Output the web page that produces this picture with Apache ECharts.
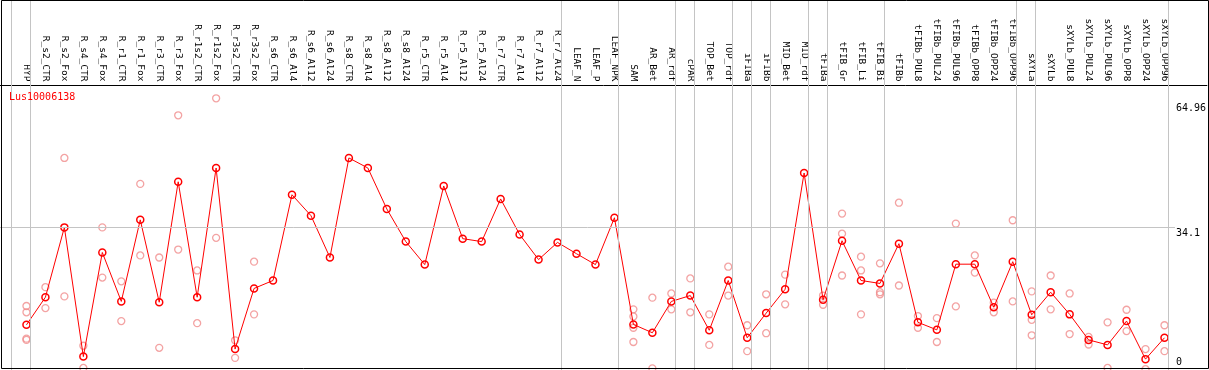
<!DOCTYPE html>
<html><head><meta charset="utf-8">
<script src="https://cdn.jsdelivr.net/npm/echarts@6/dist/echarts.min.js"></script>
<style>html,body{margin:0;padding:0;background:#fff}#c{width:1209px;height:370px}</style>
</head><body><div id="c"></div>
<script>
const geneId = 'Lus10006138';
const categories = ['HYP','R_s2_CTR','R_s2_Fox','R_s4_CTR','R_s4_Fox','R_r1_CTR','R_r1_Fox','R_r3_CTR','R_r3_Fox','R_r1s2_CTR','R_r1s2_Fox','R_r3s2_CTR','R_r3s2_Fox','R_s6_CTR','R_s6_Al4','R_s6_Al12','R_s6_Al24','R_s8_CTR','R_s8_Al4','R_s8_Al12','R_s8_Al24','R_r5_CTR','R_r5_Al4','R_r5_Al12','R_r5_Al24','R_r7_CTR','R_r7_Al4','R_r7_Al12','R_r7_Al24','LEAF_N','LEAF_P','LEAF_NPK','SAM','AR_Bet','AR_rdf','cPAR','TOP_Bet','TOP_rdf','iFIBa','iFIBb','MID_Bet','MID_rdf','tFIBa','tFIB_Gr','tFIB_Li','tFIB_Bi','tFIBb','tFIBb_PUL8','tFIBb_PUL24','tFIBb_PUL96','tFIBb_OPP8','tFIBb_OPP24','tFIBb_OPP96','sXYLa','sXYLb','sXYLb_PUL8','sXYLb_PUL24','sXYLb_PUL96','sXYLb_OPP8','sXYLb_OPP24','sXYLb_OPP96'];
const meanValues = [10.8,17.4,34.1,3.2,28.1,16.4,35.9,16.2,45.0,17.4,48.3,5.0,19.5,21.4,41.9,36.9,26.9,50.7,48.3,38.5,30.7,25.2,44.0,31.4,30.7,40.9,32.4,26.4,30.5,27.8,25.2,36.4,10.9,8.9,16.4,17.8,9.5,21.4,7.7,13.6,19.3,47.1,16.8,30.9,21.4,20.7,30.2,11.4,9.6,25.3,25.3,15.0,25.9,13.2,18.6,13.3,7.2,6.0,11.7,2.6,7.7];
const replicateValues = [
  [15.3,13.8,7.5,7.2],[19.8,14.8],[50.7,17.6],[5.8,0.5],[34.1,22.1],[21.2,11.7],[44.5,27.4],[26.9,5.3],[60.9,28.8],[23.8,11.2],[64.96,31.6],[7.1,2.9],[25.9,13.3],
  [],[],[],[],[],[],[],[],[],[],[],[],[],[],[],[],[],[],[],
  [14.5,12.8,10.1,6.7],[17.3,0.4],[18.3,14.5],[21.9,13.8],[13.3,6.0],[24.7,17.8],[10.7,4.5],[18.1,8.8],[22.8,15.7],[],
  [17.8,15.6],[37.4,32.6,22.6],[27.1,23.8,13.3],[25.5,18.6,18.1],[40.0,20.2],[12.9,10.1],[12.4,6.7],[35.0,15.2],[27.4,23.3],[16.1,13.8],[35.8,16.4],
  [18.8,12.0,8.3],[22.6,14.5],[18.3,8.6],[7.9,6.1],[11.4,0.5],[14.4,9.3],[5.0,0.2],[10.7,4.5]
];
const yTickValues = [0, 34.1, 64.96];
const referenceValue = 34.1;
const groupLastIndex = [-1, 0, 28, 31, 34, 35, 37, 38, 39, 41, 42, 45, 52, 53, 60];

// layout (pixels)
const W = 1209;
const firstX = 26.5, step = 19;
const zeroY = 371.8, pxPerUnit = 4.2028;
const xMin = (0 - firstX) / step, xMax = (W - firstX) / step;
const yMax = zeroY / pxPerUnit;
const sepOffset = 4 / step;
const refLineEnd = (1177 - firstX) / step;

const replicatePoints = [];
replicateValues.forEach((arr, i) => arr.forEach(v => replicatePoints.push([i, v])));

const mono = 'DejaVu Sans Mono';
const chart = echarts.init(document.getElementById('c'), null, {renderer: 'canvas'});
chart.setOption({
  animation: false,
  backgroundColor: '#fff',
  title: {text: geneId, left: 9, top: 92, padding: 0,
    textStyle: {color: '#ff0000', fontFamily: mono, fontSize: 10, fontWeight: 'normal'}},
  grid: {left: 0, right: 0, top: 0, height: zeroY, containLabel: false},
  xAxis: {
    type: 'value', min: xMin, max: xMax, position: 'top', offset: -85.5,
    axisLine: {show: true, onZero: false, lineStyle: {color: '#000', width: 1}},
    axisTick: {show: false}, splitLine: {show: false},
    axisLabel: {customValues: categories.map((_, i) => i), formatter: v => categories[Math.round(v)] || '',
      rotate: 90, margin: 4, fontFamily: mono, fontSize: 9.5, color: '#000'}
  },
  yAxis: {
    type: 'value', min: 0, max: yMax, position: 'right',
    axisLine: {show: false}, axisTick: {show: false}, splitLine: {show: false},
    axisLabel: {inside: true, customValues: yTickValues, align: 'left', margin: 31,
      fontFamily: mono, fontSize: 10, color: '#000',
      formatter: v => v === yTickValues[2] ? '{t|' + v + '}' : (v === yTickValues[1] ? '{m|' + v + '}' : '{b|' + v + '}'),
      rich: {
        t: {padding: [20, 0, 0, 0], fontFamily: mono, fontSize: 10, color: '#000'},
        m: {padding: [12, 0, 0, 0], fontFamily: mono, fontSize: 10, color: '#000'},
        b: {padding: [0, 0, 16, 0], fontFamily: mono, fontSize: 10, color: '#000'}
      }}
  },
  graphic: [{type: 'rect', z: 100, silent: true,
    shape: {x: 1.5, y: 0.5, width: 1207, height: 368},
    style: {fill: 'transparent', stroke: '#000', lineWidth: 1}}],
  series: [
    {type: 'scatter', data: replicatePoints, symbol: 'circle', symbolSize: 7, silent: true, z: 2,
      itemStyle: {color: 'rgba(0,0,0,0)', borderColor: '#f08c8c', borderWidth: 1.3},
      markLine: {silent: true, symbol: ['none', 'none'], label: {show: false},
        lineStyle: {color: '#c4c4c4', width: 1, type: 'solid'},
        data: groupLastIndex.map(b => ({xAxis: b + sepOffset})).concat([
          [{coord: [xMin, referenceValue]}, {coord: [refLineEnd, referenceValue]}]
        ])}
    },
    {type: 'line', data: meanValues.map((v, i) => [i, v]), symbol: 'circle', symbolSize: 7, z: 3,
      lineStyle: {color: '#ff0000', width: 1},
      itemStyle: {color: 'rgba(0,0,0,0)', borderColor: '#ff0000', borderWidth: 1.5}}
  ]
});
</script></body></html>
